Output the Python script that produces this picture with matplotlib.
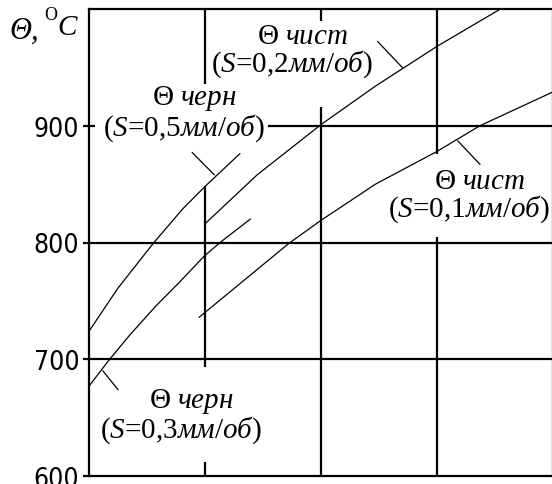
import matplotlib.pyplot as plt

# temperature curves, x in grid units, theta in deg C
x_s05 = [0.0, 0.25, 0.56, 0.81, 1.0, 1.30]
t_s05 = [724, 761, 800, 829, 848, 876]
x_s03 = [0.0, 0.17, 0.345, 0.58, 0.78, 0.99, 1.13, 1.39]
t_s03 = [677, 699, 720, 746, 766, 788, 800, 820]
x_s02 = [1.0, 1.45, 2.0, 2.47, 3.0, 3.53]
t_s02 = [816, 858, 901, 934, 968, 999]
x_s01 = [0.95, 1.72, 2.0, 2.47, 3.0, 3.37, 4.0]
t_s01 = [736, 799, 819, 850, 878, 900, 929]

yticks = [600, 700, 800, 900]

# leader lines (label -> curve)
lead_s05 = ([0.89, 1.08], [877, 858])
lead_s03 = ([0.12, 0.25], [690, 674])
lead_s02 = ([2.49, 2.70], [972, 950])
lead_s01 = ([3.18, 3.37], [887, 867])

plt.rcParams['mathtext.fontset'] = 'custom'
plt.rcParams['mathtext.it'] = 'Liberation Serif:italic'
plt.rcParams['mathtext.rm'] = 'Liberation Serif'

fig = plt.figure(figsize=(5.52, 4.85), dpi=100)
ax = fig.add_axes([89 / 552, 8 / 485, 464 / 552, 467 / 485])
ax.set_xlim(0, 4)
ax.set_ylim(600, 1000)

glw = 1.6
# grid drawn as segments, broken where the labels sit
ax.vlines(1, 936, 1000, color='k', lw=glw)
ax.vlines(1, 693, 848, color='k', lw=glw)
ax.vlines(1, 600, 612, color='k', lw=glw)
ax.vlines(2, 916, 600, color='k', lw=glw)
ax.vlines(2, 990, 1000, color='k', lw=glw)
ax.vlines(3, 876, 1000, color='k', lw=glw)
ax.vlines(3, 600, 805, color='k', lw=glw)
ax.hlines(900, 0, 0.05, color='k', lw=glw)
ax.hlines(900, 1.54, 4, color='k', lw=glw)
ax.hlines([700, 800], 0, 4, color='k', lw=glw)

lw = 0.9
ax.plot(x_s05, t_s05, color='k', lw=lw)
ax.plot(x_s03, t_s03, color='k', lw=lw)
ax.plot(x_s02, t_s02, color='k', lw=lw)
ax.plot(x_s01, t_s01, color='k', lw=lw)
for lx, ly in [lead_s05, lead_s03, lead_s02, lead_s01]:
    ax.plot(lx, ly, color='k', lw=lw)

serif = ['Liberation Serif', 'DejaVu Serif']
fs = 21


def label(x, y, s, top):
    txt = (r'$\quad\mathit{\Theta\ ' + top + '}$\n'
           '($\\mathit{S}$=0,' + s + r'$\mathit{мм/об}$)')
    ax.text(x, y, txt, family=serif, fontsize=fs, ha='center', va='center',
            multialignment='center', linespacing=0.95)


label(0.82, 911, '5', 'черн')
label(1.75, 964, '2', 'чист')
label(3.28, 840, '1', 'чист')
label(0.79, 652, '3', 'черн')

ax.set_xticks([])
ax.set_yticks(yticks)
ax.set_yticklabels([str(v) for v in yticks], family='DejaVu Sans', stretch='condensed',
                   fontsize=19)
ax.tick_params(axis='y', length=4, width=glw, pad=3)
for s in ax.spines.values():
    s.set_linewidth(glw)

fig.text(9 / 552, 1 - 31 / 485, 'Θ,', family=serif, style='italic', fontsize=22, va='center')
fig.text(44 / 552, 1 - 15 / 485, 'O', family=serif, fontsize=13, va='center')
fig.text(57 / 552, 1 - 28 / 485, 'C', family=serif, style='italic', fontsize=21, va='center')

fig.savefig('out.png', dpi=100)
